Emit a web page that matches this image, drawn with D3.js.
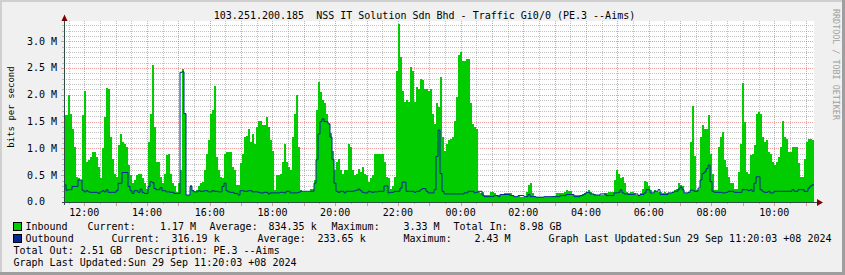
<!DOCTYPE html>
<html><head><meta charset="utf-8">
<script src="https://cdn.jsdelivr.net/npm/d3@7"></script>
<style>
html,body{margin:0;padding:0;background:#F0F0F0;}
svg{display:block;}
text{font-family:"DejaVu Sans Mono",monospace;white-space:pre;}
</style></head><body>
<svg id="chart" width="845" height="275"></svg>
<script>
// ---- data (values in M bits/s, one sample every ~230 s, starting 28 Sep 11:21:10) ----
const inboundMbps = [
1.62,1.62,1.99,1.65,1.36,1.02,0.47,0.45,0.41,1.62,
2.08,0.75,0.78,0.84,0.93,0.93,0.84,0.66,0.44,1.0,
1.58,2.13,2.11,1.21,0.81,0.53,0.47,1.06,1.27,1.12,
1.09,1.03,0.69,0.5,0.35,0.41,0.5,0.53,0.53,0.44,
0.35,0.25,1.12,1.65,2.55,1.4,0.75,0.75,0.47,0.35,
0.53,0.87,0.9,0.53,0.35,0.29,0.19,0.35,0.59,2.48,
1.65,0.13,0.13,0.32,0.22,0.19,0.22,0.29,0.35,0.38,
0.59,0.9,1.15,1.65,1.71,2.17,0.84,0.59,0.47,0.44,
0.9,0.93,0.93,0.93,0.66,0.59,0.32,0.32,0.72,0.9,
1.21,1.24,1.36,1.12,1.27,1.09,1.4,1.52,
1.52,1.43,1.43,1.58,1.4,1.15,0.96,0.22,0.5,0.5,
0.53,0.75,1.09,0.75,0.66,0.59,1.21,1.65,1.99,1.03,
0.22,0.19,0.19,0.19,0.19,0.25,0.25,0.41,1.71,2.23,
2.05,1.9,1.84,1.65,1.46,1.28,0.96,0.59,0.75,0.81,
0.59,0.53,0.59,0.59,1.09,1.03,0.59,0.5,0.53,0.62,
0.56,0.66,0.53,0.5,0.38,0.44,0.5,0.9,0.9,0.9,
0.9,0.9,0.75,0.47,0.44,0.25,0.29,0.47,2.45,3.33,
2.7,2.08,1.86,1.9,1.86,2.51,2.45,1.86,2.14,2.11,
2.29,2.27,2.11,2.11,2.08,2.11,1.65,1.46,1.84,1.78,
2.33,1.21,0.96,1.09,1.15,1.18,1.21,1.52,1.96,2.74,
2.79,2.64,2.64,2.67,2.67,1.84,1.46,1.4,1.37,0.19,
0.16,0.19,0.13,0.13,0.13,0.19,0.19,0.16,0.13,0.13,
0.13,0.13,0.17,0.17,0.17,0.16,0.13,0.1,0.1,0.12,
0.1,0.1,0.1,0.19,0.32,0.35,0.16,0.12,0.1,0.1,
0.1,0.1,0.09,0.09,0.1,0.1,0.12,0.12,0.16,0.16,
0.16,0.16,0.19,0.22,0.21,0.21,0.13,0.13,0.13,0.13,
0.13,0.15,0.16,0.19,0.22,0.19,0.15,0.15,0.13,0.13,
0.13,0.13,0.16,0.16,0.19,0.19,0.19,0.41,0.59,0.53,
0.44,0.47,0.35,0.19,0.16,0.19,0.19,0.16,0.13,0.13,
0.16,0.25,0.4,0.38,0.29,0.22,0.17,0.22,0.19,0.19,
0.19,0.17,0.19,0.16,0.17,0.17,0.19,0.22,0.25,0.35,
0.32,0.29,0.16,0.16,0.19,1.12,1.8,0.85,0.22,0.25,
1.21,1.43,1.37,1.37,1.62,0.9,0.53,0.22,0.22,1.03,
1.21,1.3,0.78,0.66,0.47,0.35,0.35,0.25,0.25,0.56,
1.09,2.22,1.49,0.56,0.53,0.87,0.9,1.06,1.65,1.68,
1.65,1.21,1.12,1.15,0.93,0.9,0.75,0.69,0.75,0.84,
1.03,1.52,1.21,1.18,0.93,0.93,1.03,1.03,1.03,0.72,
0.47,0.47,0.81,1.12,1.18,1.18,1.15
];
const outboundMbps = [
0.32,0.22,0.23,0.23,0.29,0.29,0.29,0.41,0.41,0.22,
0.19,0.21,0.19,0.18,0.18,0.18,0.18,0.16,0.19,0.21,
0.19,0.23,0.18,0.18,0.18,0.18,0.21,0.35,0.35,0.55,
0.55,0.55,0.29,0.21,0.16,0.21,0.21,0.18,0.24,0.18,
0.16,0.16,0.29,0.38,0.36,0.25,0.23,0.23,0.27,0.21,
0.21,0.19,0.19,0.18,0.18,0.16,0.16,0.16,2.42,2.43,
1.65,0.13,0.13,0.29,0.21,0.19,0.19,0.21,0.2,0.2,
0.21,0.21,0.19,0.19,0.21,0.2,0.2,0.19,0.19,0.29,
0.35,0.21,0.19,0.18,0.18,0.16,0.16,0.13,0.21,0.21,
0.2,0.2,0.21,0.21,0.19,0.19,0.19,0.18,
0.17,0.17,0.18,0.18,0.15,0.17,0.17,0.17,0.17,0.17,
0.18,0.18,0.17,0.2,0.2,0.17,0.17,0.17,0.17,0.18,
0.2,0.2,0.2,0.2,0.2,0.2,0.2,0.35,0.79,1.27,
1.5,1.55,1.5,1.5,1.46,1.21,0.79,0.35,0.2,0.18,
0.2,0.2,0.17,0.2,0.2,0.2,0.2,0.21,0.22,0.24,
0.21,0.18,0.17,0.17,0.2,0.19,0.18,0.19,0.19,0.2,
0.2,0.2,0.3,0.3,0.17,0.18,0.18,0.2,0.2,0.2,
0.26,0.37,0.37,0.2,0.2,0.2,0.2,0.18,0.2,0.2,
0.23,0.25,0.25,0.2,0.17,0.17,0.17,0.23,0.85,1.34,
0.53,0.2,0.15,0.15,0.15,0.15,0.15,0.15,0.15,0.15,
0.15,0.15,0.17,0.17,0.2,0.2,0.2,0.17,0.18,0.2,
0.2,0.13,0.1,0.1,0.1,0.1,0.1,0.12,0.12,0.1,
0.14,0.14,0.14,0.14,0.14,0.12,0.12,0.1,0.1,0.12,
0.12,0.12,0.1,0.1,0.14,0.1,0.1,0.1,0.09,0.09,
0.09,0.09,0.1,0.1,0.1,0.1,0.1,0.1,0.1,0.1,
0.12,0.12,0.12,0.14,0.14,0.14,0.14,0.1,0.1,0.1,
0.12,0.13,0.15,0.18,0.18,0.15,0.15,0.13,0.13,0.13,
0.15,0.15,0.15,0.12,0.12,0.12,0.12,0.17,0.17,0.18,
0.23,0.17,0.15,0.15,0.14,0.14,0.14,0.15,0.15,0.12,
0.14,0.14,0.17,0.23,0.23,0.17,0.17,0.2,0.2,0.23,
0.14,0.14,0.14,0.14,0.17,0.17,0.18,0.2,0.2,0.24,
0.28,0.23,0.17,0.17,0.18,0.22,0.22,0.2,0.2,0.26,
0.41,0.53,0.56,0.62,0.69,0.38,0.2,0.18,0.18,0.18,
0.18,0.17,0.17,0.18,0.2,0.2,0.2,0.18,0.18,0.18,
0.18,0.23,0.23,0.23,0.21,0.23,0.2,0.35,0.47,0.47,
0.23,0.2,0.18,0.18,0.2,0.17,0.17,0.2,0.2,0.2,
0.2,0.2,0.2,0.2,0.2,0.2,0.23,0.2,0.2,0.23,
0.23,0.23,0.2,0.2,0.26,0.3,0.32
];
const yTickValues = [0, 0.5, 1.0, 1.5, 2.0, 2.5, 3.0];
const yTickLabels = ["0.0", "0.5 M", "1.0 M", "1.5 M", "2.0 M", "2.5 M", "3.0 M"];
const titleText = "103.251.200.185  NSS IT Solution Sdn Bhd - Traffic Gi0/0 (PE.3 --Aims)";
const yAxisTitle = "bits per second";
const watermark = "RRDTOOL / TOBI OETIKER";
const seriesNames = ["Inbound", "Outbound"];
const inboundLegend = ["Current:", "1.17 M", "Average:", "834.35 k", "Maximum:", "3.33 M", "Total In:", "8.98 GB"];
const outboundLegend = ["Current:", "316.19 k", "Average:", "233.65 k", "Maximum:", "2.43 M", "Graph Last Updated:Sun 29 Sep 11:20:03 +08 2024"];
const row3Legend = ["Total Out:", "2.51 GB", "Description:", "PE.3 --Aims"];
const row4Legend = ["Graph Last Updated:Sun 29 Sep 11:20:03 +08 2024"];

const startTime = new Date(2024, 8, 28, 11, 21, 10);
const stepSeconds = 229.6;

// ---- layout ----
const W = 845, H = 275;
const L = 64, R = 814, T = 21, B = 202;
const GREEN = "#00CC00", BLUE = "#002A97";
const MGRID = "rgba(222,80,80,0.55)", GRID = "rgba(143,143,143,0.55)";

const svg = d3.select("#chart");
svg.append("rect").attr("width", W).attr("height", H).attr("fill", "#F0F0F0");
// 3D frame
svg.append("rect").attr("x",0).attr("y",0).attr("width",W).attr("height",2).attr("fill","#CFCFCF");
svg.append("rect").attr("x",0).attr("y",0).attr("width",2).attr("height",H).attr("fill","#CFCFCF");
svg.append("rect").attr("x",0).attr("y",H-3).attr("width",W).attr("height",3).attr("fill","#9E9E9E");
svg.append("rect").attr("x",W-3).attr("y",0).attr("width",3).attr("height",H).attr("fill","#9E9E9E");

const toTime = i => new Date(startTime.getTime() + i * stepSeconds * 1000);
const endTime = toTime(inboundMbps.length);
const x = d3.scaleTime().domain([startTime, endTime]).range([L, R]);
const y = d3.scaleLinear().domain([0, 3.3775]).range([B, T]);

svg.append("rect").attr("x", L).attr("y", T).attr("width", R - L).attr("height", B - T).attr("fill", "#FFFFFF");

// grid
const grid = svg.append("g");
const px = v => Math.round(v) + 0.5;
for (let k = 1; k <= 33; k++) {
  const v = k / 10;
  const major = k % 5 === 0;
  grid.append("line").attr("x1", L).attr("x2", R).attr("y1", px(y(v))).attr("y2", px(y(v)))
    .attr("stroke", major ? MGRID : GRID).attr("stroke-dasharray", "1,1");
}
x.ticks(d3.timeMinute.every(30)).forEach(t => {
  const major = t.getMinutes() === 0;
  grid.append("line").attr("x1", px(x(t))).attr("x2", px(x(t))).attr("y1", T).attr("y2", B)
    .attr("stroke", major ? MGRID : GRID).attr("stroke-dasharray", "1,1");
});

// series
const inData = inboundMbps.map((v, i) => ({ t: toTime(i), v }));
inData.push({ t: endTime, v: inboundMbps[inboundMbps.length - 1] });
const outData = outboundMbps.map((v, i) => ({ t: toTime(i), v }));
outData.push({ t: endTime, v: outboundMbps[outboundMbps.length - 1] });

svg.append("path").datum(inData)
  .attr("d", d3.area().x(d => x(d.t)).y0(y(0)).y1(d => y(d.v)).curve(d3.curveStepAfter))
  .attr("fill", GREEN).attr("shape-rendering", "crispEdges");
svg.append("path").datum(outData)
  .attr("d", d3.line().x(d => x(d.t)).y(d => y(d.v)).curve(d3.curveStepAfter))
  .attr("fill", "none").attr("stroke", BLUE).attr("stroke-width", 1);

// ticks on axes
x.ticks(d3.timeMinute.every(30)).forEach(t => {
  const major = t.getMinutes() === 0;
  svg.append("line").attr("x1", px(x(t))).attr("x2", px(x(t))).attr("y1", B).attr("y2", B + (major ? 4 : 2))
    .attr("stroke", major ? MGRID : GRID);
});
for (let k = 1; k <= 33; k++) {
  const major = k % 5 === 0;
  svg.append("line").attr("x1", L - (major ? 3 : 2)).attr("x2", L).attr("y1", px(y(k / 10))).attr("y2", px(y(k / 10)))
    .attr("stroke", major ? MGRID : GRID);
}

// axes
svg.append("line").attr("x1", L - 2).attr("x2", R + 4).attr("y1", B + 0.5).attr("y2", B + 0.5).attr("stroke", "#2C4D43");
svg.append("line").attr("x1", L + 0.5).attr("x2", L + 0.5).attr("y1", B + 3).attr("y2", T - 4).attr("stroke", "#2C4D43");
svg.append("polygon").attr("points", `${L-2.5},${T} ${L+3.5},${T} ${L+0.5},${T-6.5}`).attr("fill", "#7F0000");
svg.append("polygon").attr("points", `${R+3},${B-3} ${R+3},${B+4} ${R+9},${B+0.5}`).attr("fill", "#7F0000");

// x labels
x.ticks(d3.timeHour.every(2)).forEach(t => {
  svg.append("text").attr("x", x(t)).attr("y", 216).attr("text-anchor", "middle")
    .attr("font-size", 10).text(d3.timeFormat("%H:%M")(t));
});
// y labels
yTickValues.forEach((v, i) => {
  svg.append("text").attr("x", 27).attr("y", y(v) + 3.4).attr("font-size", 10).text(yTickLabels[i]);
});

// title
svg.append("text").attr("x", 424.5).attr("y", 19).attr("text-anchor", "middle").attr("font-size", 10).text(titleText);
// y axis title
svg.append("text").attr("transform", "translate(13.5,107) rotate(-90)").attr("text-anchor", "middle")
  .attr("font-size", 9).text(yAxisTitle);
// watermark
svg.append("text").attr("transform", "translate(833,9) rotate(90)").attr("font-size", 8.4)
  .attr("fill", "#A0A0A0").text(watermark);

// legend
const row = (items, xs, yb) => items.forEach((s, i) =>
  svg.append("text").attr("x", xs[i]).attr("y", yb).attr("font-size", 10).text(s));
svg.append("rect").attr("x", 13.5).attr("y", 222.5).attr("width", 8).attr("height", 8).attr("fill", GREEN).attr("stroke", "#000");
svg.append("rect").attr("x", 13.5).attr("y", 234.5).attr("width", 8).attr("height", 8).attr("fill", BLUE).attr("stroke", "#000");
row([seriesNames[0]].concat(inboundLegend), [25.5, 87.5, 160, 209.5, 268.5, 331.5, 403.5, 453.5, 519.5], 230);
row([seriesNames[1]].concat(outboundLegend), [25.5, 111.5, 171.5, 257.5, 317.5, 403.5, 474.5, 548.5], 242);
row(row3Legend, [13.5, 80, 135.5, 213.5], 254);
row(row4Legend, [13.5], 266);
</script>
</body></html>
